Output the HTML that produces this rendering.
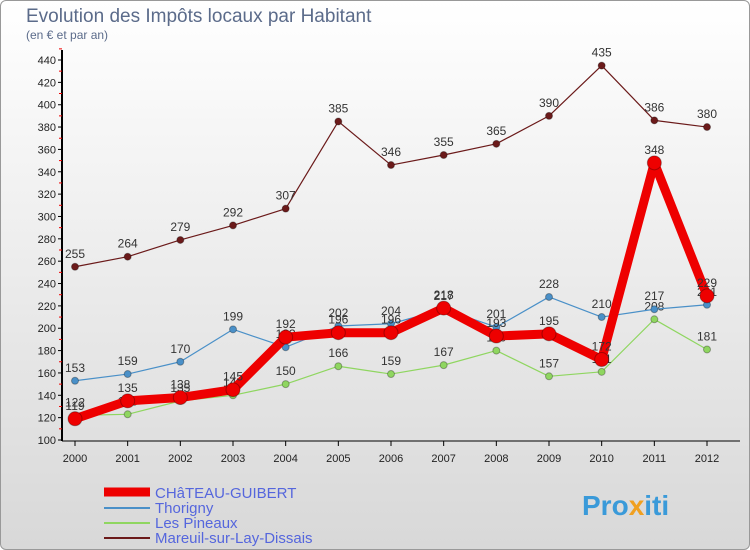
<!DOCTYPE html>
<html><head><meta charset="utf-8"><style>
body{margin:0;background:#fff;font-family:"Liberation Sans","DejaVu Sans",sans-serif}
#wrap{position:relative;width:748px;height:548px;border:1px solid #999;border-radius:6px;overflow:hidden;background:linear-gradient(#ffffff,#d8d8d8)}
</style></head><body>
<div id="wrap">
<svg id="chart" width="750" height="550" style="position:absolute;left:-1px;top:-1px">
<text x="26" y="22" font-size="19" fill="#5b6b8a">Evolution des Impôts locaux par Habitant</text>
<text x="26" y="39" font-size="12" fill="#5b6b8a">(en € et par an)</text>
<g id="axes"></g><g id="series"></g>
<g>
<line x1="104" y1="492" x2="150" y2="492" stroke="#e00" stroke-width="9"/>
<text x="155" y="498" font-size="15" fill="#5566dd">CHâTEAU-GUIBERT</text>
<line x1="104" y1="508" x2="150" y2="508" stroke="#4a90c8" stroke-width="2"/>
<text x="155" y="513" font-size="15" fill="#5566dd">Thorigny</text>
<line x1="104" y1="523" x2="150" y2="523" stroke="#8fd660" stroke-width="2"/>
<text x="155" y="528" font-size="15" fill="#5566dd">Les Pineaux</text>
<line x1="104" y1="538" x2="150" y2="538" stroke="#6b1a1a" stroke-width="2"/>
<text x="155" y="543" font-size="15" fill="#5566dd">Mareuil-sur-Lay-Dissais</text>
</g>
<text x="582" y="515" font-size="28" font-weight="bold" fill="#3a9ad9">Pro<tspan fill="#f0a020">x</tspan>iti</text>
</svg>
</div>
<script>
const years=[2000,2001,2002,2003,2004,2005,2006,2007,2008,2009,2010,2011,2012];
const yTicks=[100,120,140,160,180,200,220,240,260,280,300,320,340,360,380,400,420,440];
const chateau=[119,135,138,145,192,196,196,218,193,195,172,348,229];
const thorigny=[153,159,170,199,183,202,204,217,201,228,210,217,221];
const pineaux=[122,123,135,140,150,166,159,167,180,157,161,208,181];
const mareuil=[255,264,279,292,307,385,346,355,365,390,435,386,380];
const NS='http://www.w3.org/2000/svg';
const X=i=>75+i*(707-75)/(years.length-1);
const Y=v=>440-(v-100)*(380/340);
function mk(t,a,p){const e=document.createElementNS(NS,t);for(const k in a)e.setAttribute(k,a[k]);p.appendChild(e);return e;}
const ax=document.getElementById('axes');
let l=mk('line',{x1:62,y1:50,x2:62,y2:441,stroke:'#000','stroke-width':2},ax);


l=mk('line',{x1:62,y1:441,x2:740,y2:441,stroke:'#000','stroke-width':1},ax);


yTicks.forEach(v=>{mk('line',{x1:58,y1:Y(v),x2:62,y2:Y(v),stroke:'#000'},ax);
mk('line',{x1:59,y1:Y(v+10),x2:62,y2:Y(v+10),stroke:'#e00'},ax);
const t=mk('text',{x:56,y:Y(v)+4,'text-anchor':'end','font-size':11,fill:'#222'},ax);t.textContent=v;

});
years.forEach((y,i)=>{mk('line',{x1:X(i),y1:441,x2:X(i),y2:446,stroke:'#000'},ax);
const t=mk('text',{x:X(i),y:462,'text-anchor':'middle','font-size':11,fill:'#222'},ax);t.textContent=y;

});
const sg=document.getElementById('series');
function draw(data,color,w,r,name){const g=mk('g',{},sg);


const p=mk('polyline',{points:data.map((v,i)=>X(i)+','+Y(v)).join(' '),fill:'none',stroke:color,'stroke-width':w,'stroke-linejoin':'round'},g);


data.forEach((v,i)=>{const c=mk('circle',{cx:X(i),cy:Y(v),r:r,fill:color,stroke:'rgba(0,0,0,0.3)'},g);


const t=mk('text',{x:X(i),y:Y(v)-9,'text-anchor':'middle','font-size':12,fill:'#333'},g);t.textContent=v;

});}
draw(mareuil,'#6b1a1a',1.2,3.5,'series-mareuil');
draw(pineaux,'#8fd660',1.2,3.5,'series-pineaux');
draw(thorigny,'#4a90c8',1.2,3.5,'series-thorigny');
draw(chateau,'#e00',9,7,'series-chateau');
</script>
</body></html>
